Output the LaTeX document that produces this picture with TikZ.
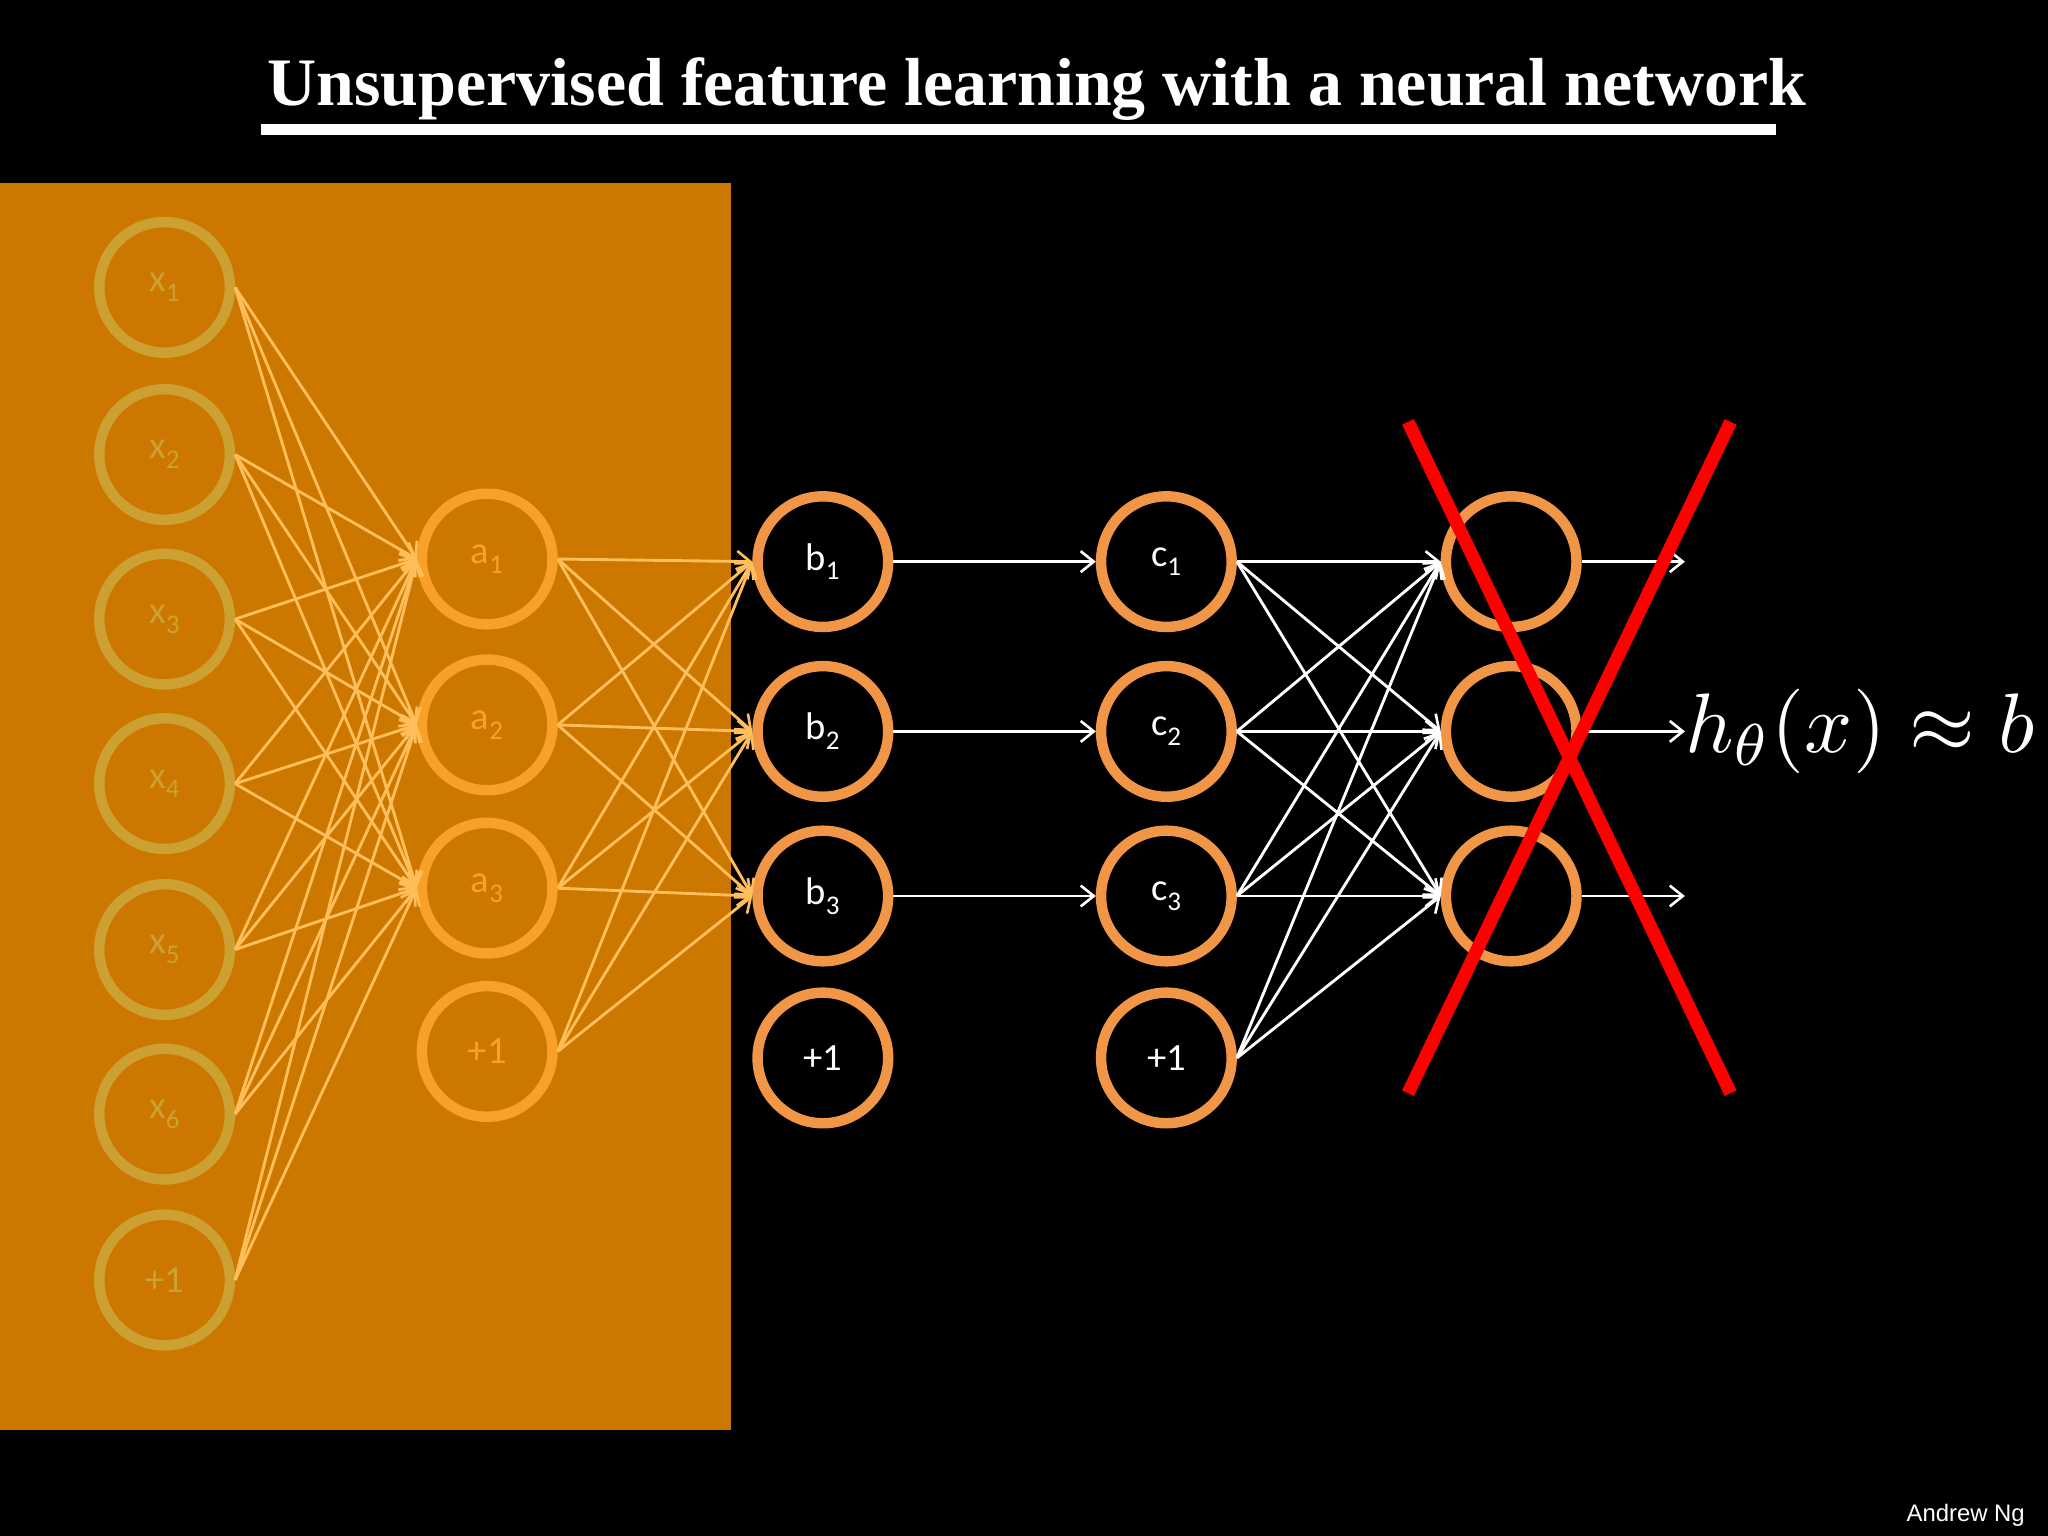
\documentclass[tikz,border=0pt]{standalone}
\usepackage{fontspec}
\setmainfont{Liberation Serif}
\newfontfamily\lab{Carlito}
\newfontfamily\hel{Liberation Sans}
\usetikzlibrary{arrows.meta}
\definecolor{bgor}{RGB}{204,119,0}
\definecolor{xring}{RGB}{205,160,50}
\definecolor{aring}{RGB}{248,160,40}
\definecolor{ring}{RGB}{240,150,70}
\definecolor{xedge}{RGB}{255,190,90}
\newcommand{\sbs}[1]{\textsubscript{#1}}
\tikzset{
 neur/.style={circle,draw,line width=4mm,minimum size=5cm,inner sep=0pt,font=\lab\fontsize{42}{48}\selectfont},
 xn/.style={neur,draw=xring,text=xring},
 an/.style={neur,draw=aring,text=aring},
 bn/.style={neur,draw=ring,text=white},
 tip/.style={-{Straight Barb[length=5mm,width=8mm,line width=1mm]}},
 oe/.style={tip,draw=xedge,line width=1.1mm},
 we/.style={tip,draw=white,line width=1.1mm},
}
\begin{document}
\begin{tikzpicture}[x=0.5mm,y=-0.5mm]
\fill[black] (0,0) rectangle (1568,1176);
\useasboundingbox (0,0) rectangle (1568,1176);
\fill[bgor] (0,140) rectangle (560,1095);
\node[font=\bfseries\fontsize{74}{84}\selectfont,text=white] (title) at (794,68) {Unsupervised feature learning with a neural network};
\draw[white,line width=4mm] (200,99) -- (1360,99);
% input layer
\foreach \i/\y in {1/220,2/348,3/474,4/600,5/727,6/853}
  \node[xn] (x\i) at (126,\y) {x\sbs{\i}};
\node[xn] (x7) at (126,980) {+1};
\foreach \i/\y in {1/428,2/555,3/680}
  \node[an] (a\i) at (373,\y) {a\sbs{\i}};
\node[an] (a4) at (373,805) {+1};
\foreach \i/\y in {1/430,2/560,3/686}{
  \node[bn] (b\i) at (630,\y) {b\sbs{\i}};
  \node[bn] (c\i) at (893,\y) {c\sbs{\i}};
  \node[bn] (o\i) at (1157,\y) {};}
\node[bn] (b4) at (630,810) {+1};
\node[bn] (c4) at (893,810) {+1};
\foreach \i in {1,...,7} \foreach \j in {1,2,3}
  \draw[oe] (x\i.east) -- (a\j.west);
\foreach \i in {1,...,4} \foreach \j in {1,2,3}
  \draw[oe] (a\i.east) -- (b\j.west);
\foreach \j in {1,2,3} \draw[we] (b\j.east) -- (c\j.west);
\foreach \i in {1,...,4} \foreach \j in {1,2,3}
  \draw[we] (c\i.east) -- (o\j.west);
\coordinate (e1) at (1290,430);
\coordinate (e2) at (1290,560);
\coordinate (e3) at (1290,686);
\foreach \j in {1,2,3} \draw[we] (o\j.east) -- (e\j);
\node[anchor=west,text=white,inner sep=0pt] (h) at (1290,560) {\scalebox{9.2}{$h_\theta(x)\approx b$}};
\coordinate (r1) at (1078,323); \coordinate (r2) at (1325,837);
\coordinate (r3) at (1325,323); \coordinate (r4) at (1078,837);
\draw[red,line width=5mm] (r1) -- (r2);
\draw[red,line width=5mm] (r3) -- (r4);
\node[text=white,font=\hel\fontsize{26}{30}\selectfont] (ng) at (1505,1160) {Andrew Ng};
\end{tikzpicture}
\end{document}
